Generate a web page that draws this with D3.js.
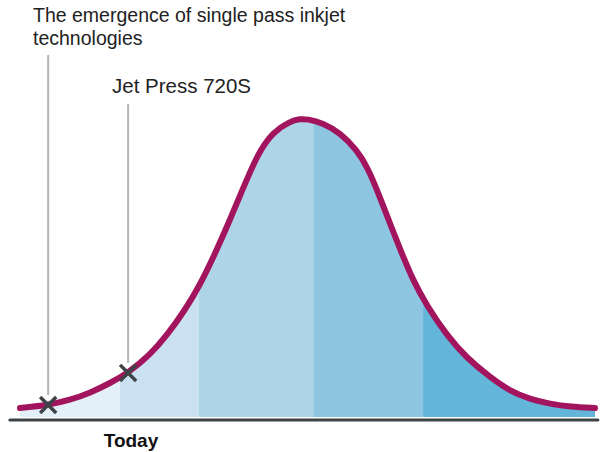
<!DOCTYPE html>
<html>
<head>
<meta charset="utf-8">
<script src="https://cdn.jsdelivr.net/npm/d3@7"></script>
<style>
  body { margin: 0; background: #fff; }
  svg { display: block; font-family: "Liberation Sans", Arial, sans-serif; }
</style>
</head>
<body>
<div id="chart"></div>
<script>
// Adoption curve (t = time 0..100, v = level 0..100)
const curveT = [0, 4.9, 8.7, 12.2, 15.7, 18.8, 22.6, 25.6, 28.7, 31.3, 33.9, 36.5, 38.3, 40.0, 41.7,
                44.0, 47.0, 48.7, 49.9, 52.7, 55.7, 58.6, 60.5, 62.6, 64.3, 66.1, 68.3, 70.8,
                74.3, 77.7, 81.7, 85.2, 88.7, 92.2, 95.7, 100];
const curveV = [3.0, 4.0, 5.7, 8.1, 11.4, 14.8, 20.8, 27.5, 35.9, 44.3, 54.7, 66.1, 74.5, 82.2, 89.3,
                95.6, 99.3, 100, 100, 98.7, 95.3, 89.6, 83.6, 73.8, 65.1, 56.4, 46.0, 37.2,
                27.2, 19.8, 13.4, 8.7, 6.0, 4.4, 3.4, 3.0];

// Shaded bands under the curve
const bandEdges = [0, 17.4, 31.1, 51.0, 70.1, 100];
const bandColors = ["#e4f0f9", "#c9e1f0", "#aed4e8", "#8ec5e0", "#63b5da"];

// Annotated moments on the curve
const markerT = [4.9, 18.8];
const markerV = [4.0, 14.8];
const markerLabels = [["The emergence of single pass inkjet", "technologies"], ["Jet Press 720S"]];

const todayT = 19.3;
const todayLabel = "Today";
const axisExtent = [-1.75, 100.5];

const width = 607, height = 452;

const x = d3.scaleLinear().domain([0, 100]).range([20, 595]);
const y = d3.scaleLinear().domain([0, 100]).range([417, 119]);

const points = curveT.map((t, i) => ({ t: t, v: curveV[i] }));

const svg = d3.select("#chart")
    .append("svg")
    .attr("width", width)
    .attr("height", height);

// Area under the curve used as a clip for the bands.
const area = d3.area()
    .x(d => x(d.t))
    .y0(y(0))
    .y1(d => y(d.v))
    .curve(d3.curveBasis);

svg.append("clipPath")
    .attr("id", "under")
    .append("path")
    .attr("d", area(points));

svg.append("g")
    .attr("clip-path", "url(#under)")
    .selectAll("rect")
    .data(bandColors)
    .enter()
    .append("rect")
    .attr("x", (c, i) => x(bandEdges[i]))
    .attr("width", (c, i) => x(bandEdges[i + 1]) - x(bandEdges[i]))
    .attr("y", y(100) - 10)
    .attr("height", y(0) - y(100) + 10)
    .attr("fill", c => c);

// Baseline.
svg.append("line")
    .attr("x1", x(axisExtent[0]))
    .attr("x2", x(axisExtent[1]))
    .attr("y1", y(0) + 3)
    .attr("y2", y(0) + 3)
    .attr("stroke", "#3e4347")
    .attr("stroke-width", 3.2)
    .attr("stroke-linecap", "round");

// Curve.
const line = d3.line()
    .x(d => x(d.t))
    .y(d => y(d.v))
    .curve(d3.curveBasis);

svg.append("path")
    .attr("d", line(points))
    .attr("fill", "none")
    .attr("stroke", "#a3145e")
    .attr("stroke-width", 6)
    .attr("stroke-linecap", "round");

// Leader lines and labels.
const labelTop = [55, 104];
const labelX = [33, 112];
const labelBase = [22, 93];
const labelSize = [19.5, 20.5];

markerT.forEach((t, i) => {
    svg.append("line")
        .attr("x1", x(t)).attr("x2", x(t))
        .attr("y1", labelTop[i])
        .attr("y2", y(markerV[i]) - 10)
        .attr("stroke", "#b5b5b5")
        .attr("stroke-width", 2);

    const txt = svg.append("text")
        .attr("x", labelX[i])
        .attr("y", labelBase[i])
        .attr("font-size", labelSize[i])
        .attr("fill", "#222");
    markerLabels[i].forEach((s, j) => {
        txt.append("tspan")
            .attr("x", labelX[i])
            .attr("dy", j === 0 ? 0 : 23)
            .text(s);
    });
});

// X markers.
const cross = d3.symbol().type(d3.symbolX).size(170);
svg.selectAll(".marker")
    .data(markerT)
    .enter()
    .append("path")
    .attr("class", "marker")
    .attr("transform", (t, i) => `translate(${x(t)},${y(markerV[i])})`)
    .attr("d", cross)
    .attr("fill", "none")
    .attr("stroke", "#3e4347")
    .attr("stroke-width", 3.5);

svg.append("text")
    .attr("x", x(todayT))
    .attr("y", 447)
    .attr("text-anchor", "middle")
    .attr("font-size", 19)
    .attr("font-weight", "bold")
    .attr("fill", "#111")
    .text(todayLabel);
</script>
</body>
</html>
